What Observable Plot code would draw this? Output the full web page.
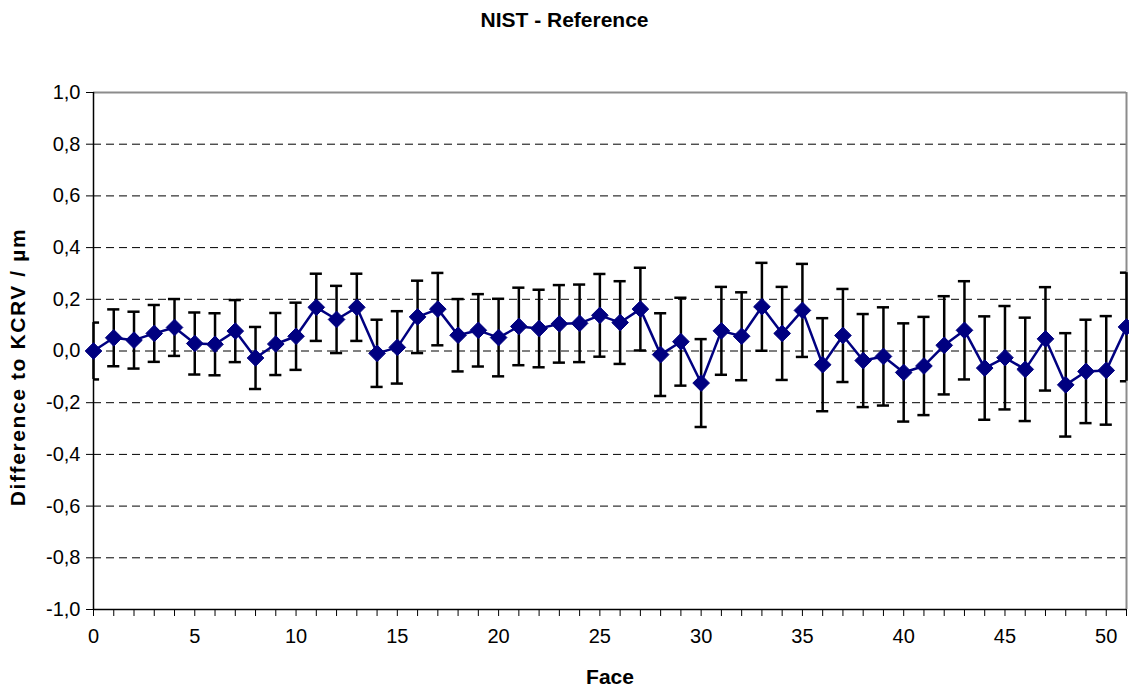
<!DOCTYPE html>
<html>
<head>
<meta charset="utf-8">
<script src="https://cdn.jsdelivr.net/npm/d3@7"></script>
<script src="https://cdn.jsdelivr.net/npm/@observablehq/plot@0.6"></script>
<style>
  body { margin: 0; background: #fff; font-family: "Liberation Sans", Arial, sans-serif; }
  #title { height: 40px; line-height: 40px; text-align: center; font-weight: bold; font-size: 21px; color: #000; }
</style>
</head>
<body>
<div id="title">NIST - Reference</div>
<div id="chart"></div>
<script>
// values
const faces = d3.range(0, 52);
const diff = [
  0.000, 0.051, 0.042, 0.068, 0.091, 0.029, 0.026, 0.077, -0.027, 0.027,
  0.057, 0.169, 0.122, 0.169, -0.009, 0.014, 0.132, 0.162, 0.061, 0.080,
  0.052, 0.095, 0.087, 0.105, 0.107, 0.138, 0.110, 0.162, -0.014, 0.036,
  -0.124, 0.078, 0.057, 0.171, 0.068, 0.157, -0.053, 0.060, -0.037, -0.021,
  -0.083, -0.058, 0.022, 0.080, -0.066, -0.026, -0.071, 0.047, -0.131, -0.079,
  -0.075, 0.093
];
const uncert = [
  0.11, 0.11, 0.11, 0.11, 0.11, 0.12, 0.12, 0.12, 0.12, 0.12,
  0.13, 0.13, 0.13, 0.13, 0.13, 0.14, 0.14, 0.14, 0.14, 0.14,
  0.15, 0.15, 0.15, 0.15, 0.15, 0.16, 0.16, 0.16, 0.16, 0.17,
  0.17, 0.17, 0.17, 0.17, 0.18, 0.18, 0.18, 0.18, 0.18, 0.19,
  0.19, 0.19, 0.19, 0.19, 0.20, 0.20, 0.20, 0.20, 0.20, 0.20,
  0.21, 0.21
];
const yTicks = [-1, -0.8, -0.6, -0.4, -0.2, 0, 0.2, 0.4, 0.6, 0.8, 1];
const gridLines = [-0.8, -0.6, -0.4, -0.2, 0, 0.2, 0.4, 0.6, 0.8];
const xLabelEvery = 5;
const yLabel = "Difference to KCRV / µm";

const rows = faces.map((f, i) => ({face: f, value: diff[i], lo: diff[i] - uncert[i], hi: diff[i] + uncert[i]}));

const navy = "#000080";
const capHalf = 0.3; // half cap width, in faces

const chart = Plot.plot({
  width: 1129,
  height: 651,
  marginTop: 52,
  marginBottom: 82,
  marginLeft: 93,
  marginRight: 3,
  x: {domain: [0, 51]},
  y: {domain: [-1, 1]},
  style: {fontFamily: '"Liberation Sans", Arial, sans-serif', fontSize: "20px", color: "#000", background: "#fff"},
  marks: [
    Plot.ruleY(gridLines, {stroke: "#000", strokeWidth: 1, strokeDasharray: "8,5"}),
    Plot.ruleY([1], {stroke: "#8c8c8c", strokeWidth: 2}),
    Plot.ruleX([51], {stroke: "#8c8c8c", strokeWidth: 2}),
    Plot.axisY({ticks: yTicks, tickSize: 7, tickPadding: 6, tickFormat: d => d.toFixed(1).replace(".", ","), label: null, fontSize: 20}),
    Plot.axisX({ticks: faces, tickSize: 7, tickPadding: 12, tickFormat: d => d % xLabelEvery === 0 ? d : "", label: null, fontSize: 20}),
    Plot.ruleX([0], {stroke: "#000", strokeWidth: 1.5}),
    Plot.ruleY([-1], {stroke: "#000", strokeWidth: 1.5}),
    // error bars
    Plot.ruleX(rows, {x: "face", y1: "lo", y2: "hi", stroke: "#000", strokeWidth: 2.5}),
    Plot.ruleY(rows, {y: "hi", x1: d => d.face - capHalf, x2: d => d.face + capHalf, stroke: "#000", strokeWidth: 2.5, clip: true}),
    Plot.ruleY(rows, {y: "lo", x1: d => d.face - capHalf, x2: d => d.face + capHalf, stroke: "#000", strokeWidth: 2.5, clip: true}),
    Plot.line(rows, {x: "face", y: "value", stroke: navy, strokeWidth: 2.5}),
    Plot.dot(rows, {x: "face", y: "value", symbol: "diamond2", r: 7.5, fill: navy, stroke: navy, strokeWidth: 1}),
    Plot.text([yLabel], {frameAnchor: "left", textAnchor: "middle", rotate: -90, dx: -75, dy: 16, fontWeight: "bold", fontSize: 21}),
    Plot.text(["Face"], {frameAnchor: "bottom", dy: 74, fontWeight: "bold", fontSize: 21})
  ]
});

// the reference label is set a little wider than the font
d3.select(chart).selectAll("text")
  .filter(function () { return this.textContent === yLabel; })
  .attr("letter-spacing", "1.6px");

document.getElementById("chart").append(chart);
</script>
</body>
</html>
